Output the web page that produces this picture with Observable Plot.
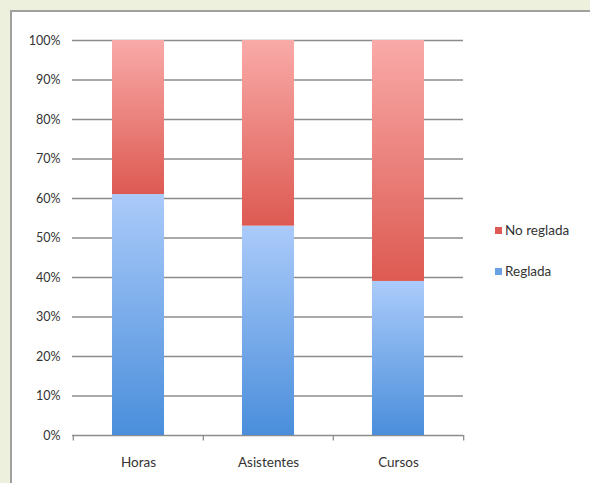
<!DOCTYPE html>
<html>
<head>
<meta charset="utf-8">
<script src="https://cdn.jsdelivr.net/npm/d3@7"></script>
<script src="https://cdn.jsdelivr.net/npm/@observablehq/plot@0.6"></script>
<style>
  html, body { margin: 0; padding: 0; background: #edf0dd; width: 590px; height: 483px; overflow: hidden; }
  #panel { position: absolute; left: 10px; top: 10px; width: 578px; height: 471px; background: #fff;
           border-left: 2px solid #a0a0a0; border-top: 2px solid #a0a0a0; }
  #chart { position: absolute; left: 0; top: 0; }
  .legend { position: absolute; left: 483px; font-family: Lato, "Open Sans", sans-serif; font-size: 13.5px; color: #333; }
  .legend span.sw { display: inline-block; width: 7px; height: 7px; margin-right: 3px; vertical-align: 1px; }
</style>
</head>
<body>
<div id="panel">
  <div id="chart"></div>
  <div class="legend" style="top:210px"><span class="sw" style="background:#e05a55"></span>No reglada</div>
  <div class="legend" style="top:251px"><span class="sw" style="background:#6aa0e4"></span>Reglada</div>
</div>
<script>
const categories = ["Horas", "Asistentes", "Cursos"];
const series = ["Reglada", "No reglada"];
const reglada = [0.61, 0.53, 0.39];
const noReglada = [0.39, 0.47, 0.61];
const yTicks = [0, 0.1, 0.2, 0.3, 0.4, 0.5, 0.6, 0.7, 0.8, 0.9, 1.0];

const data = [];
categories.forEach((c, i) => {
  data.push({cat: c, series: series[0], value: reglada[i]});
  data.push({cat: c, series: series[1], value: noReglada[i]});
});

const W = 578, H = 471, ML = 60, MR = 127, MT = 28, MB = 48;
const step = (W - ML - MR) / categories.length;

const plot = Plot.plot({
  width: W, height: H,
  marginLeft: ML, marginRight: MR, marginTop: MT, marginBottom: MB,
  style: {fontFamily: "Lato, 'Open Sans', sans-serif", fontSize: "13px", color: "#333", background: "transparent"},
  x: {domain: categories, paddingInner: 0.6, paddingOuter: 0.3, label: null, tickSize: 0, tickPadding: 22},
  y: {domain: [0, 1], ticks: yTicks, tickFormat: d3.format(".0%"), label: null, tickSize: 0, tickPadding: 12},
  color: {domain: series, range: ["url(#gBlue)", "url(#gRed)"]},
  marks: [
    Plot.gridY(yTicks, {stroke: "#8c8c8c", strokeOpacity: 1, strokeWidth: 1.3}),
    Plot.ruleX(categories, {x: d => d, y1: 0, y2: -0.014, dx: -step / 2, stroke: "#8c8c8c", strokeWidth: 1.3}),
    Plot.ruleX([categories[categories.length - 1]], {x: d => d, y1: 0, y2: -0.014, dx: step / 2, stroke: "#8c8c8c", strokeWidth: 1.3}),
    Plot.barY(data, Plot.stackY({x: "cat", y: "value", fill: "series", order: series})),
    Plot.axisX({tickSize: 0, tickPadding: 22, fontSize: 13.5}),
    Plot.axisY({ticks: yTicks, tickFormat: d3.format(".0%"), tickSize: 0, tickPadding: 12, fontSize: 12.5})
  ]
});

const ns = "http://www.w3.org/2000/svg";
const defs = document.createElementNS(ns, "defs");
function grad(id, top, bottom) {
  const g = document.createElementNS(ns, "linearGradient");
  g.setAttribute("id", id);
  g.setAttribute("x1", "0"); g.setAttribute("y1", "0");
  g.setAttribute("x2", "0"); g.setAttribute("y2", "1");
  [[0, top], [1, bottom]].forEach(([o, c]) => {
    const s = document.createElementNS(ns, "stop");
    s.setAttribute("offset", o);
    s.setAttribute("stop-color", c);
    g.appendChild(s);
  });
  defs.appendChild(g);
}
grad("gBlue", "#abcbfa", "#4a8edb");
grad("gRed", "#f9aaa8", "#dd5a52");
plot.insertBefore(defs, plot.firstChild);
document.getElementById("chart").appendChild(plot);
</script>
</body>
</html>
